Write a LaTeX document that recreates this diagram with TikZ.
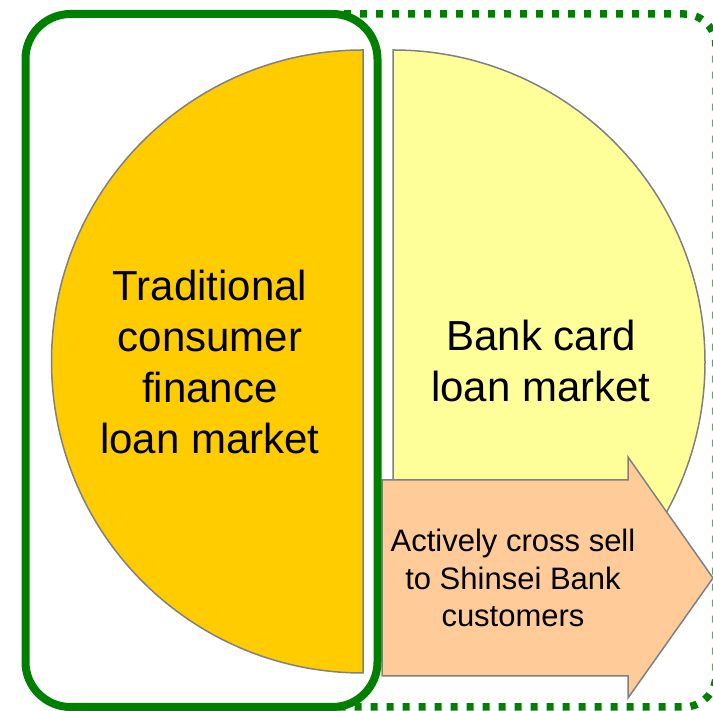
\documentclass[tikz,border=0pt]{standalone}
\usepackage{fontspec}
\setmainfont{Liberation Sans}
\usetikzlibrary{positioning}
\definecolor{MktGold}{RGB}{255,204,0}
\definecolor{MktYellow}{RGB}{255,255,153}
\definecolor{MktPeach}{RGB}{255,204,153}
\definecolor{EdgeGray}{RGB}{128,128,128}
\definecolor{FrameGreen}{RGB}{0,128,0}

\begin{document}
\begin{tikzpicture}[
  x=1pt, y=1pt,
  half/.style={draw=EdgeGray, line width=1.5pt},
  big/.style={align=center, inner sep=0pt,
    font=\fontsize{42}{51}\selectfont},
  small/.style={align=center, inner sep=0pt,
    font=\fontsize{31}{37.5}\selectfont},
  frame/.style={draw=FrameGreen, line width=8pt, rounded corners=45pt},
  dotframe/.style={draw=FrameGreen, line width=7.5pt,
    dash pattern=on 7pt off 9pt, rounded corners=32pt},
]
  \useasboundingbox (0,0) rectangle (713,711);

  % ========== 外框（点线，右端出画面；左端藏在实线框下）==========
  \draw[dotframe] (200,697) -- (716,697) -- (716,4) -- (200,4);

  % ========== 两个半圆：左传统消费金融 / 右银行卡贷 ==========
  \filldraw[half, fill=MktGold]
    (363,661) arc[start angle=90, end angle=270, radius=311.5] -- cycle;
  \filldraw[half, fill=MktYellow]
    (393,661) arc[start angle=90, end angle=-90, radius=312] -- cycle;

  % ========== 交叉销售箭头 ==========
  \filldraw[half, fill=MktPeach]
    (382,231) -- (628,231) -- (628,254) -- (713,133)
    -- (628,13) -- (628,35) -- (382,35) -- cycle;

  % 左框实线压在点线框上
  \draw[frame] (25.5,4) rectangle (377.5,697);

  % ========== 文字 ==========
  \node[big] (trad) at (210,349.5)
    {Traditional\\consumer\\finance\\loan market};
  \node[big] (bank) at (541,350)
    {Bank card\\loan market};
  \node[small] (sell) at (513,133)
    {Actively cross sell\\to Shinsei Bank\\customers};
\end{tikzpicture}
\end{document}
